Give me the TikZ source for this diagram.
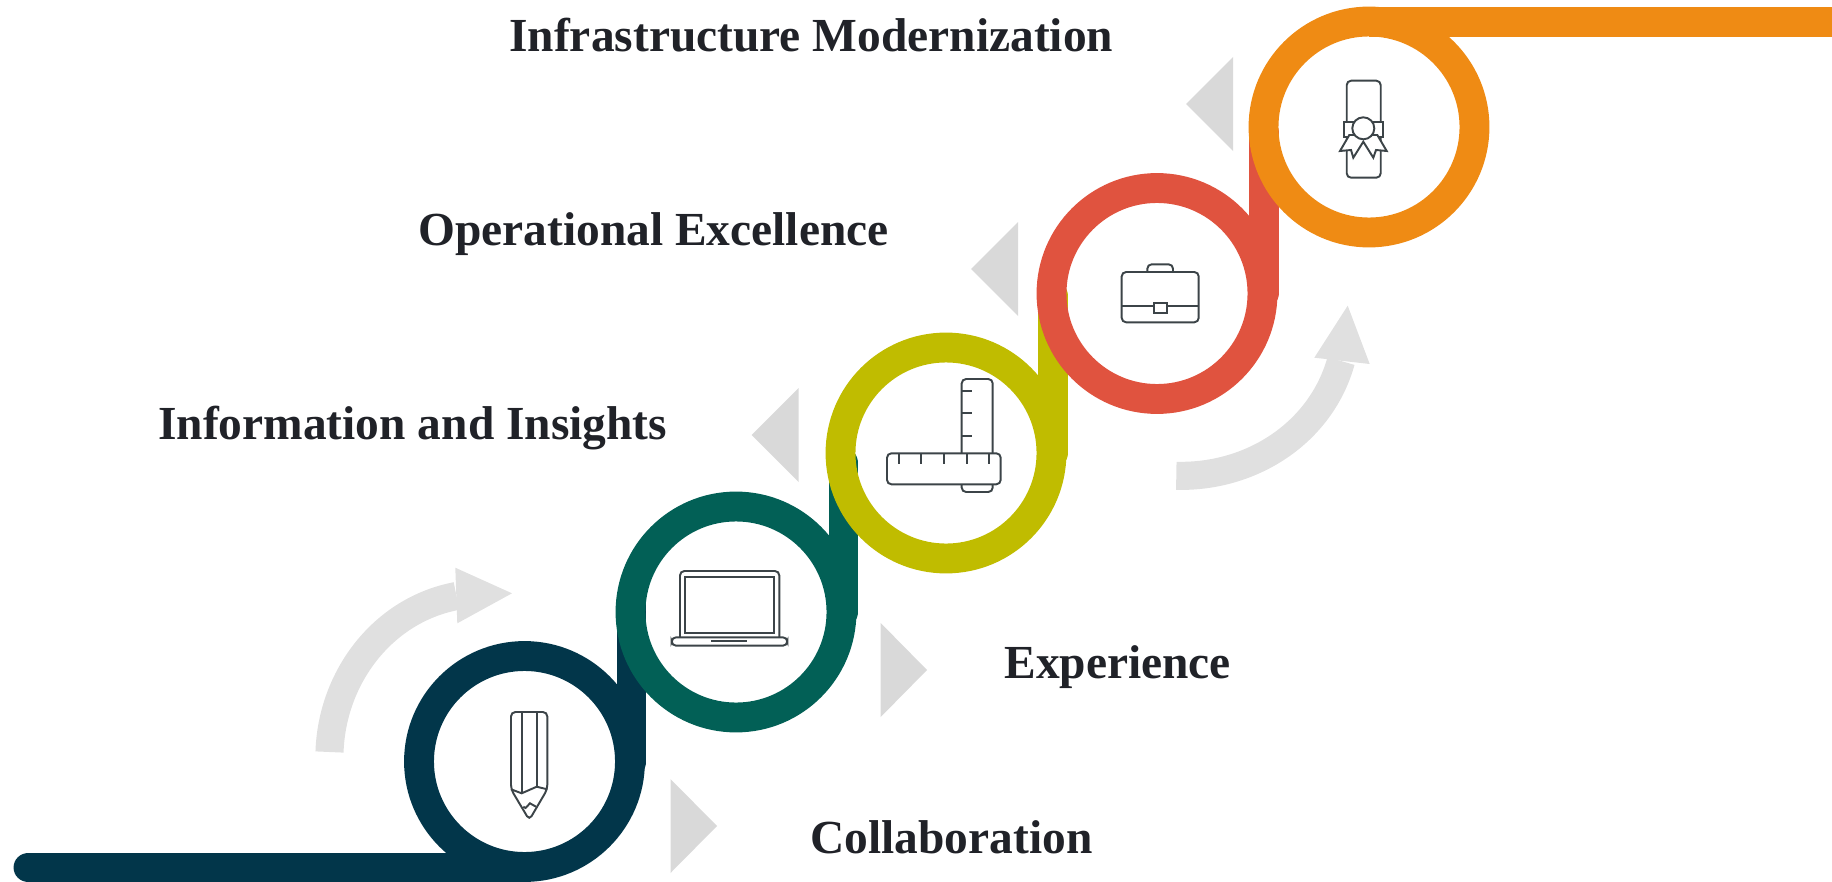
\documentclass[tikz,border=0pt]{standalone}
\usepackage{fontspec}
\setmainfont{Liberation Serif}
\usepackage{tikz}

\definecolor{navy}{HTML}{02364A}
\definecolor{teal2}{HTML}{026056}
\definecolor{olive2}{HTML}{C0BC00}
\definecolor{coral}{HTML}{E0533F}
\definecolor{amber}{HTML}{EF8B14}
\definecolor{inkgray}{HTML}{3C4448}
\definecolor{labelink}{HTML}{202228}

\begin{document}
\begin{tikzpicture}[x=0.02cm,y=-0.02cm]
\tikzstyle{ring}=[circle, draw, inner sep=0, minimum size=4.22cm, line width=17pt]
\tikzstyle{band}=[line width=17pt, line cap=round]
\tikzstyle{pointer}=[fill=black!15]
\tikzstyle{sweep}=[black!12, line width=16pt]
\tikzstyle{icon}=[draw=inkgray, line width=1.1pt, rounded corners=2.5pt, fill=white]
\tikzstyle{caption}=[anchor=base west, inner sep=0, text=labelink, font=\bfseries\fontsize{27}{32}\selectfont]
\useasboundingbox (0,0) rectangle (1832,882);

% ends of the bands
\coordinate (n0) at (28.5,867.5);
\coordinate (n1) at (524.5,867.5);
\coordinate (a1) at (631.5,606);
\coordinate (b1) at (631.5,762);
\coordinate (a2) at (843.5,463);
\coordinate (b2) at (843.5,612);
\coordinate (a3) at (1053,296);
\coordinate (b3) at (1053,453);
\coordinate (a4) at (1264,133);
\coordinate (b4) at (1264,293);
\coordinate (n5) at (1369,22);
\coordinate (n6) at (1832,22);

% grey arrows
\draw[sweep] (329.5,752) .. controls (332,677) and (382.8,610) .. (456.5,596);
\fill[black!12] (455.3,567.7) -- (512,593.3) -- (457.3,623.3) -- cycle;
\draw[sweep] (1176.3,475.8) .. controls (1251.3,477.8) and (1321,433) .. (1341,361);
\fill[black!12] (1314.3,357.7) -- (1347.7,305.7) -- (1369.7,364) -- cycle;

% grey triangles
\fill[pointer] (670.5,779) -- (717,826) -- (670.5,873) -- cycle;
\fill[pointer] (880.7,623) -- (927,670) -- (880.7,717) -- cycle;
\fill[pointer] (798.7,388) -- (751.7,435) -- (798.7,482) -- cycle;
\fill[pointer] (1018,222) -- (971,269) -- (1018,316) -- cycle;
\fill[pointer] (1233,57) -- (1186,104) -- (1233,151) -- cycle;

% rings and bands, each over the one before
\draw[band, navy] (n0) -- (n1);
\draw[band, navy] (a1) -- (b1);
\node (c1) at (524.5,761.5) [ring, draw=navy] {};
\draw[band, teal2] (a2) -- (b2);
\node (c2) at (736,612) [ring, draw=teal2] {};
\draw[band, olive2] (a3) -- (b3);
\node (c3) at (946,453) [ring, draw=olive2] {};
\draw[band, coral] (a4) -- (b4);
\node (c4) at (1157,293.5) [ring, draw=coral] {};
\draw[band, amber, line cap=butt] (n5) -- (n6);
\node (c5) at (1369,127) [ring, draw=amber] {};

% pencil
\draw[icon] (511,789.3) -- (511,712) -- (547.3,712) -- (547.3,789.3) -- (529.3,820) -- cycle;
\draw[icon, fill=none, rounded corners=0pt] (521.7,712) -- (521.7,793.3);
\draw[icon, fill=none, rounded corners=0pt] (536.7,712) -- (536.7,786.7);
\draw[icon, fill=none, rounded corners=0pt] (511,789.3) -- (521.7,793.3) -- (536.7,786.7) -- (547.3,789.3);
\draw[icon, fill=none, rounded corners=0pt] (523.3,806.7) -- (525.5,808) -- (530,803.3) -- (536,806.7);

% laptop
\draw[icon] (680,637.3) -- (680,571) -- (779.3,571) -- (779.3,637.3);
\draw[icon, rounded corners=0pt] (685,576.7) rectangle (774.3,632.7);
\draw[icon] (671.7,637.3) rectangle (787.3,645.7);
\draw[icon, rounded corners=0pt] (711,641) -- (747.3,641);

% rulers
\draw[icon] (961.7,379) rectangle (992.7,492);
\draw[icon, fill=none, rounded corners=0pt] (961.7,390.7) -- (972.3,390.7);
\draw[icon, fill=none, rounded corners=0pt] (961.7,413) -- (972.3,413);
\draw[icon, fill=none, rounded corners=0pt] (961.7,435.7) -- (972.3,435.7);
\draw[icon] (887,453.3) rectangle (1000.7,484.3);
\draw[icon, fill=none, rounded corners=0pt] (899,453.3) -- (899,464.3);
\draw[icon, fill=none, rounded corners=0pt] (921.3,453.3) -- (921.3,464.3);
\draw[icon, fill=none, rounded corners=0pt] (943.7,453.3) -- (943.7,464.3);
\draw[icon, fill=none, rounded corners=0pt] (966.7,453.3) -- (966.7,464.3);
\draw[icon, fill=none, rounded corners=0pt] (989,453.3) -- (989,464.3);

% briefcase
\draw[icon] (1147.3,272) -- (1147.3,264.3) -- (1173,264.3) -- (1173,272);
\draw[icon] (1121.7,272) rectangle (1198.7,322.3);
\draw[icon, fill=none, rounded corners=0pt] (1121.7,306) -- (1198.7,306);
\draw[icon, rounded corners=0pt] (1153.7,302.7) rectangle (1166.7,312.7);

% diploma
\draw[icon] (1346.7,80.7) rectangle (1380.7,177.7);
\draw[icon, rounded corners=0pt] (1343.7,121.7) rectangle (1383.3,136.7);
\draw[icon, rounded corners=0pt] (1349.3,135) -- (1340,151) -- (1351,150) -- (1353.3,157.7) -- (1363.3,141.7) -- (1373.3,157.7) -- (1376,150) -- (1386.7,151) -- (1377.3,135) -- cycle;
\draw[icon] (1363.3,128.3) circle (11);

% labels
\node (t1) at (810,853) [caption] {Collaboration};
\node (t2) at (1004,678) [caption] {Experience};
\node (t3) at (158,439) [caption] {Information and Insights};
\node (t4) at (418,245) [caption] {Operational Excellence};
\node (t5) at (509,52) [caption] {Infrastructure Modernization};
\end{tikzpicture}
\end{document}
